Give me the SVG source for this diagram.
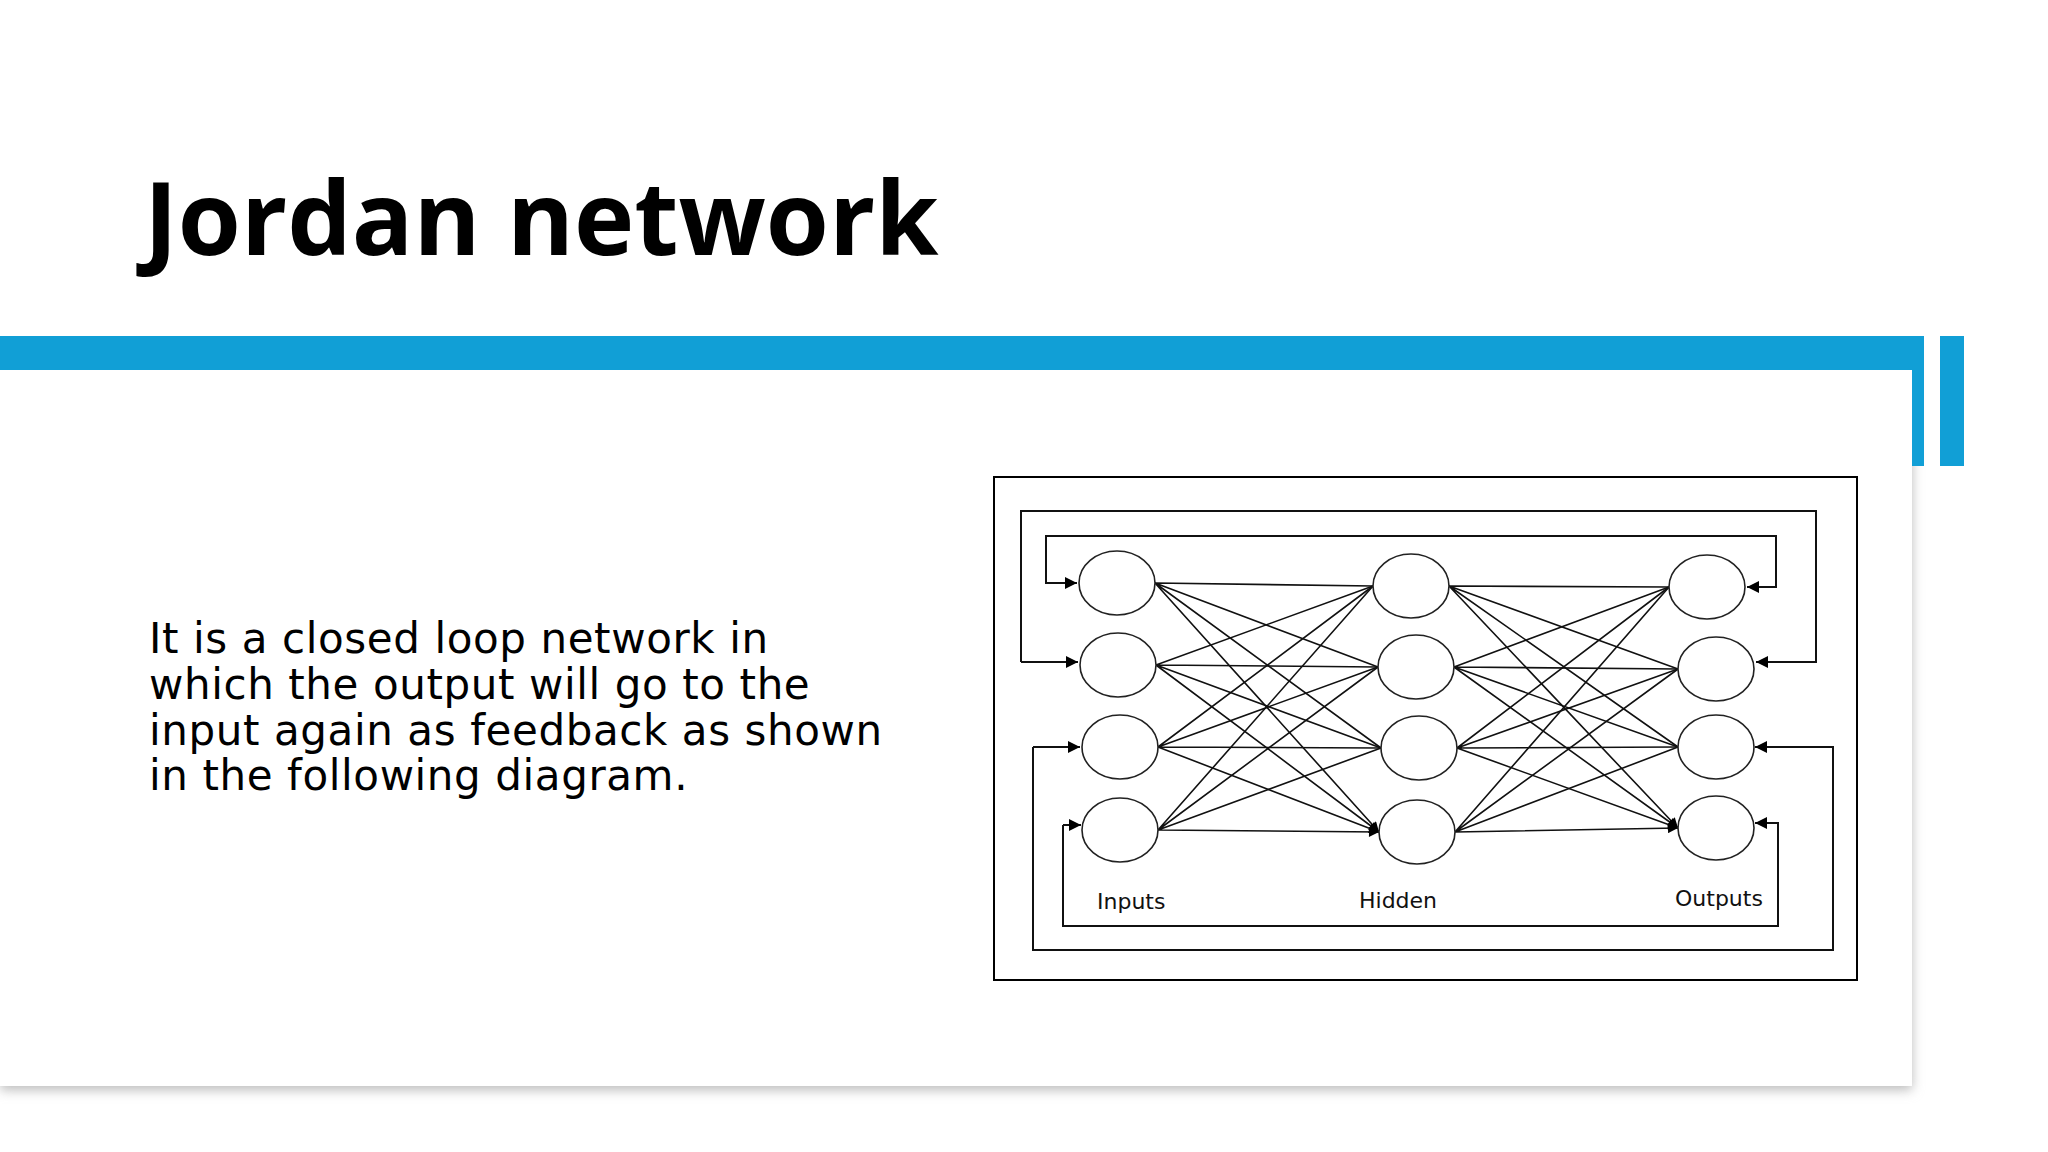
<svg xmlns="http://www.w3.org/2000/svg" width="2048" height="1152" viewBox="0 0 2048 1152">
<defs>
<filter id="sh" x="-5%" y="-5%" width="110%" height="115%"><feGaussianBlur stdDeviation="6"/></filter>
<marker id="ah" viewBox="0 0 10 10" refX="10" refY="5" markerWidth="12" markerHeight="10" orient="auto" markerUnits="userSpaceOnUse"><path d="M0,0 L10,5 L0,10 z" fill="#000"/></marker>
<marker id="fb" viewBox="0 0 10 10" refX="10" refY="5" markerWidth="13" markerHeight="12" orient="auto" markerUnits="userSpaceOnUse"><path d="M0,0 L10,5 L0,10 z" fill="#000"/></marker>
</defs>
<style>
.n{fill:#fff;stroke:#222;stroke-width:1.6}
.e{stroke:#111;stroke-width:1.6;fill:none;marker-end:url(#ah)}
.f{stroke:#111;stroke-width:2;fill:none;marker-end:url(#fb)}
.lbl{font-family:"DejaVu Sans",sans-serif;font-size:22px;fill:#111}
.body{font-family:"DejaVu Sans",sans-serif;font-size:42px;letter-spacing:0.6px;fill:#000}
</style>
<rect width="2048" height="1152" fill="#fff"/>
<rect x="0" y="350" width="1912" height="740" fill="#bbb" filter="url(#sh)"/>
<rect x="0" y="336" width="1912" height="750" fill="#fff"/>
<rect x="0" y="336" width="1924" height="34" fill="#119fd6"/>
<rect x="1912" y="336" width="12" height="130" fill="#119fd6"/>
<rect x="1940" y="336" width="24" height="130" fill="#119fd6"/>
<text x="144" y="255" font-family="'Open Sans','Noto Sans',sans-serif" font-weight="bold" font-size="102" fill="#000">Jordan network</text>
<text class="body"><tspan x="149" y="653">It is a closed loop network in</tspan><tspan x="149" y="699">which the output will go to the</tspan><tspan x="149" y="745">input again as feedback as shown</tspan><tspan x="149" y="790">in the following diagram.</tspan></text>
<rect x="994" y="477" width="863" height="503" fill="#fff" stroke="#000" stroke-width="2"/>
<g id="connectors">
<path class="e" d="M1155,583 L1373,586 M1155,583 L1378,667 M1155,583 L1381,748 M1155,583 L1379,832"/>
<path class="e" d="M1156,665 L1373,586 M1156,665 L1378,667 M1156,665 L1381,748 M1156,665 L1379,832"/>
<path class="e" d="M1158,747 L1373,586 M1158,747 L1378,667 M1158,747 L1381,748 M1158,747 L1379,832"/>
<path class="e" d="M1158,830 L1373,586 M1158,830 L1378,667 M1158,830 L1381,748 M1158,830 L1379,832"/>
<path class="e" d="M1449,586 L1669,587 M1449,586 L1678,669 M1449,586 L1678,747 M1449,586 L1678,828"/>
<path class="e" d="M1454,667 L1669,587 M1454,667 L1678,669 M1454,667 L1678,747 M1454,667 L1678,828"/>
<path class="e" d="M1457,748 L1669,587 M1457,748 L1678,669 M1457,748 L1678,747 M1457,748 L1678,828"/>
<path class="e" d="M1455,832 L1669,587 M1455,832 L1678,669 M1455,832 L1678,747 M1455,832 L1678,828"/>
<path class="f" d="M1021,662 L1021,511 L1816,511 L1816,662 L1756,662" stroke="#666" stroke-width="2.5"/>
<path class="f" d="M1021,662 L1078,662"/>
<path class="f" d="M1776,587 L1776,536 L1046,536 L1046,583 L1077,583"/>
<path class="f" d="M1776,536 L1776,587 L1747,587"/>
<path class="f" d="M1033,747 L1033,950 L1833,950 L1833,747 L1755,747"/>
<path class="f" d="M1033,747 L1080,747"/>
<path class="f" d="M1063,825 L1063,926 L1778,926 L1778,823 L1755,823"/>
<path class="f" d="M1063,825 L1081,825"/>
</g>
<g id="in1"><ellipse class="n" cx="1117" cy="583" rx="38" ry="32"/></g>
<g id="in2"><ellipse class="n" cx="1118" cy="665" rx="38" ry="32"/></g>
<g id="in3"><ellipse class="n" cx="1120" cy="747" rx="38" ry="32"/></g>
<g id="in4"><ellipse class="n" cx="1120" cy="830" rx="38" ry="32"/></g>
<g id="h1"><ellipse class="n" cx="1411" cy="586" rx="38" ry="32"/></g>
<g id="h2"><ellipse class="n" cx="1416" cy="667" rx="38" ry="32"/></g>
<g id="h3"><ellipse class="n" cx="1419" cy="748" rx="38" ry="32"/></g>
<g id="h4"><ellipse class="n" cx="1417" cy="832" rx="38" ry="32"/></g>
<g id="o1"><ellipse class="n" cx="1707" cy="587" rx="38" ry="32"/></g>
<g id="o2"><ellipse class="n" cx="1716" cy="669" rx="38" ry="32"/></g>
<g id="o3"><ellipse class="n" cx="1716" cy="747" rx="38" ry="32"/></g>
<g id="o4"><ellipse class="n" cx="1716" cy="828" rx="38" ry="32"/></g>
<text class="lbl" x="1097" y="909">Inputs</text>
<text class="lbl" x="1359" y="908">Hidden</text>
<text class="lbl" x="1675" y="906">Outputs</text>
</svg>
